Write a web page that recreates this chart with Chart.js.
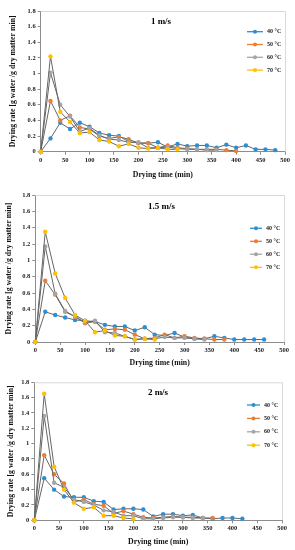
<!DOCTYPE html>
<html>
<head>
<meta charset="utf-8">
<script src="https://cdn.jsdelivr.net/npm/chart.js@4.4.0/dist/chart.umd.min.js"></script>
<style>
    html, body { margin: 0; padding: 0; background: #fff; width: 295px; height: 550px; overflow: hidden; }
    canvas { position: absolute; left: 0; }
</style>
</head>
<body>
<canvas id="c1" width="295" height="182" style="top:0px"></canvas>
<canvas id="c2" width="295" height="186" style="top:182px"></canvas>
<canvas id="c3" width="295" height="182" style="top:368px"></canvas>
<script>
// time axis (min), one reading every 20 min
const times = [0, 20, 40, 60, 80, 100, 120, 140, 160, 180, 200, 220, 240, 260, 280, 300, 320, 340, 360, 380, 400, 420, 440, 460, 480];
const seriesLabels = ['40 °C', '50 °C', '60 °C', '70 °C'];
const panelTitles = ['1 m/s', '1.5 m/s', '2 m/s'];
const xTicks = [0, 50, 100, 150, 200, 250, 300, 350, 400, 450, 500];
const yTicks = [0, 0.2, 0.4, 0.6, 0.8, 1, 1.2, 1.4, 1.6, 1.8];

// 1 m/s
const v1_40 = [0, 0.17, 0.37, 0.29, 0.37, 0.32, 0.24, 0.21, 0.20, 0.13, 0.11, 0.11, 0.12, 0.06, 0.10, 0.07, 0.08, 0.08, 0.05, 0.09, 0.05, 0.08, 0.03, 0.03, 0.02];
const v1_50 = [0, 0.65, 0.40, 0.46, 0.31, 0.29, 0.20, 0.17, 0.19, 0.16, 0.11, 0.11, 0.05, 0.08, 0.05, 0.04, 0.03, 0.03, 0.03, 0.02, 0.01];
const v1_60 = [0, 1.01, 0.60, 0.45, 0.26, 0.30, 0.21, 0.16, 0.15, 0.12, 0.12, 0.05, 0.05, 0.06, 0.04, 0.03, 0.03, 0.02, 0.02];
const v1_70 = [0, 1.22, 0.51, 0.38, 0.24, 0.25, 0.15, 0.13, 0.07, 0.10, 0.05, 0.04, 0.05, 0.03, 0.03];

// 1.5 m/s
const v15_40 = [0, 0.37, 0.33, 0.30, 0.27, 0.26, 0.25, 0.21, 0.19, 0.19, 0.14, 0.18, 0.09, 0.08, 0.11, 0.06, 0.04, 0.04, 0.07, 0.05, 0.03, 0.03, 0.03, 0.03];
const v15_50 = [0, 0.75, 0.58, 0.37, 0.31, 0.23, 0.25, 0.15, 0.16, 0.15, 0.09, 0.04, 0.05, 0.09, 0.05, 0.07, 0.05, 0.04, 0.03, 0.03];
const v15_60 = [0, 1.17, 0.59, 0.38, 0.31, 0.24, 0.26, 0.12, 0.11, 0.07, 0.03, 0.04, 0.04, 0.06, 0.05, 0.05, 0.04, 0.03];
const v15_70 = [0, 1.35, 0.84, 0.54, 0.33, 0.26, 0.12, 0.14, 0.08, 0.07, 0.03, 0.04, 0.03];

// 2 m/s
const v2_40 = [0, 0.55, 0.40, 0.31, 0.30, 0.30, 0.25, 0.24, 0.14, 0.15, 0.15, 0.14, 0.05, 0.08, 0.08, 0.06, 0.07, 0.03, 0.02, 0.03, 0.03, 0.02];
const v2_50 = [0, 0.85, 0.60, 0.48, 0.24, 0.27, 0.21, 0.19, 0.09, 0.12, 0.08, 0.04, 0.03, 0.04, 0.05, 0.04, 0.04, 0.03, 0.03];
const v2_60 = [0, 1.36, 0.49, 0.43, 0.27, 0.24, 0.20, 0.13, 0.11, 0.06, 0.06, 0.02, 0.02, 0.03, 0.04, 0.04, 0.03, 0.03];
const v2_70 = [0, 1.65, 0.70, 0.40, 0.23, 0.15, 0.17, 0.06, 0.06, 0.03, 0.02];

const markerColors = ['#2b8fd4', '#ed7d31', '#a5a5a5', '#ffc000'];
const lineColor = '#666666';
const serif = '"Liberation Serif", "Times New Roman", serif';

// panel layout (canvas coords)
const panels = [
    { id: 'c1', values: [v1_40, v1_50, v1_60, v1_70], pad: { top: 11, right: 10, left: 0, bottom: 0 }, yW: 40.7, xH: 30.3, xTitlePad: 2.5, yTitlePad: 8.5, title: [161, 22], legend: { x: 247, y: 31.7, gap: 12.8, len: 16 } },
    { id: 'c2', values: [v15_40, v15_50, v15_60, v15_70], pad: { top: 13, right: 11, left: 0, bottom: 0 }, yW: 35.3, xH: 26, xTitlePad: 0, yTitlePad: 4.5, title: [161.5, 24.7], legend: { x: 250, y: 46.3, gap: 13, len: 12 } },
    { id: 'c3', values: [v2_40, v2_50, v2_60, v2_70], pad: { top: 14.3, right: 13, left: 0, bottom: 0 }, yW: 34.3, xH: 29.7, xTitlePad: 3.5, yTitlePad: 6, title: [158, 25], legend: { x: 247, y: 37, gap: 13.4, len: 13 } },
];

// in-plot title, Excel style legend, light frame on top/right
const overlay = {
    id: 'overlay',
    beforeDatasetsDraw(chart) {
        const { ctx, chartArea: a } = chart;
        ctx.save();
        ctx.strokeStyle = '#d9d9d9';
        ctx.lineWidth = 1;
        ctx.beginPath();
        ctx.moveTo(a.left, a.top + 0.5);
        ctx.lineTo(a.right + 0.5, a.top + 0.5);
        ctx.lineTo(a.right + 0.5, a.bottom);
        ctx.stroke();
        ctx.restore();
    },
    afterDatasetsDraw(chart, args, opts) {
        const { ctx } = chart;
        ctx.save();
        ctx.fillStyle = '#000';
        ctx.font = 'bold 9px ' + serif;
        ctx.textAlign = 'center';
        ctx.textBaseline = 'middle';
        ctx.fillText(opts.text, opts.title[0], opts.title[1]);

        const lg = opts.legend;
        ctx.font = 'bold 6px ' + serif;
        ctx.textAlign = 'left';
        chart.data.datasets.forEach((ds, i) => {
            const y = lg.y + i * lg.gap;
            ctx.strokeStyle = ds.pointBackgroundColor;
            ctx.lineWidth = 1.3;
            ctx.beginPath();
            ctx.moveTo(lg.x, y);
            ctx.lineTo(lg.x + lg.len, y);
            ctx.stroke();
            ctx.fillStyle = ds.pointBackgroundColor;
            ctx.beginPath();
            ctx.arc(lg.x + lg.len / 2, y, 2, 0, Math.PI * 2);
            ctx.fill();
            ctx.fillStyle = '#222';
            ctx.fillText(ds.label, lg.x + lg.len + 4, y);
        });
        ctx.restore();
    }
};

panels.forEach((p, k) => {
    const datasets = p.values.map((vals, i) => ({
        label: seriesLabels[i],
        data: vals.map((v, j) => ({ x: times[j], y: v })),
        borderColor: lineColor,
        borderWidth: 1,
        pointRadius: 2.2,
        pointBorderWidth: 0,
        pointBackgroundColor: markerColors[i],
        pointBorderColor: markerColors[i],
        tension: 0,
        clip: false,
        order: 3 - i,
    }));

    new Chart(document.getElementById(p.id), {
        type: 'line',
        data: { datasets },
        options: {
            responsive: false,
            animation: false,
            devicePixelRatio: 1,
            layout: { padding: p.pad },
            plugins: {
                legend: { display: false },
                tooltip: { enabled: false },
                overlay: { text: panelTitles[k], title: p.title, legend: p.legend },
            },
            scales: {
                x: {
                    type: 'linear',
                    min: 0, max: 500,
                    afterBuildTicks: (s) => { s.ticks = xTicks.map(v => ({ value: v })); },
                    afterFit: (s) => { s.height = p.xH; },
                    grid: { display: true, drawOnChartArea: false, tickLength: 3, color: '#8c8c8c' },
                    border: { color: '#8c8c8c', width: 1 },
                    ticks: { color: '#222', padding: 1.5, maxRotation: 0, font: { family: serif, size: 6.5, weight: 'bold' } },
                    title: { display: true, text: 'Drying time (min)', color: '#111', padding: { top: 0, bottom: p.xTitlePad }, font: { family: serif, size: 7.8, weight: 'bold', lineHeight: 1.2 } },
                },
                y: {
                    min: 0, max: 1.8,
                    afterBuildTicks: (s) => { s.ticks = yTicks.map(v => ({ value: v })); },
                    afterFit: (s) => { s.width = p.yW; },
                    grid: { display: true, drawOnChartArea: false, tickLength: 3, color: '#8c8c8c' },
                    border: { color: '#8c8c8c', width: 1 },
                    ticks: { color: '#222', padding: 2, font: { family: serif, size: 6.5, weight: 'bold' }, callback: (v) => String(Math.round(v * 10) / 10) },
                    title: { display: true, text: 'Drying rate [g water /g dry matter min]', color: '#111', padding: { top: p.yTitlePad, bottom: 0 }, font: { family: serif, size: 7.8, weight: 'bold', lineHeight: 1.2 } },
                },
            },
        },
        plugins: [overlay],
    });
});
</script>
</body>
</html>
